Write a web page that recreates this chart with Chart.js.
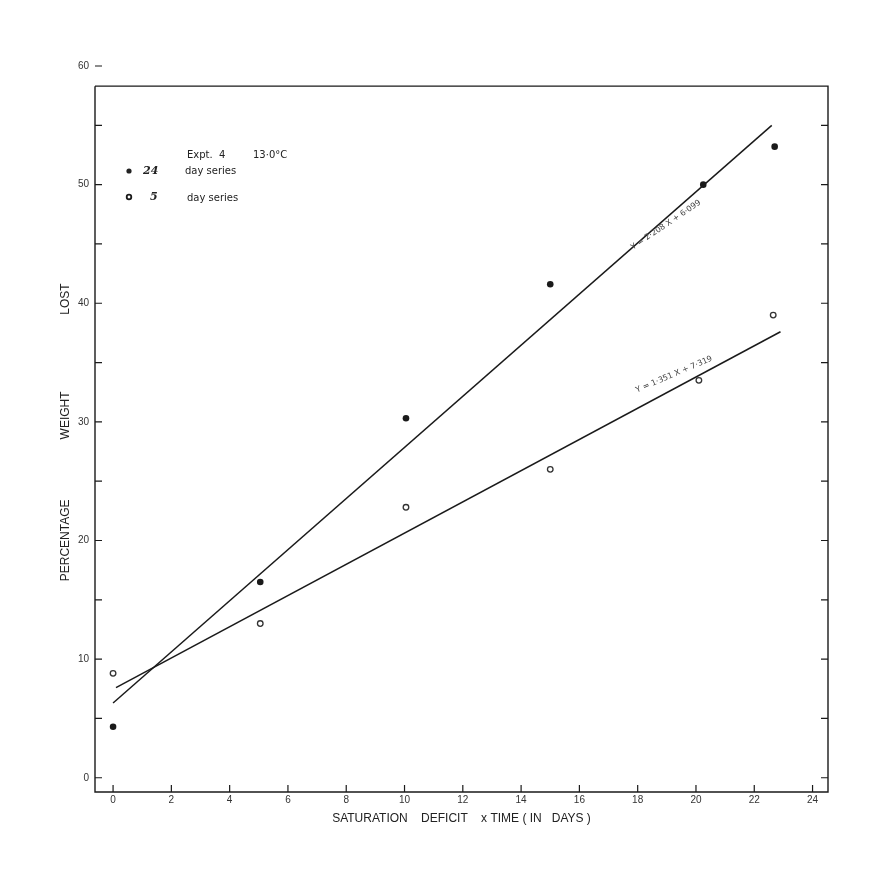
<!DOCTYPE html>
<html>
<head>
<meta charset="utf-8">
<script src="https://cdn.jsdelivr.net/npm/chart.js@4/dist/chart.umd.min.js"></script>
<style>
    body { margin: 0; background: #fff; }
    canvas { display: block; }
</style>
</head>
<body>
<canvas id="chart" width="875" height="872"></canvas>
<script>
// 24 day series (filled points)
const days24X = [0, 5.05, 10.05, 15.0, 20.25, 22.7];
const days24Y = [4.3, 16.5, 30.3, 41.6, 50.0, 53.2];

// 5 day series (open points)
const days5X = [0, 5.05, 10.05, 15.0, 20.1, 22.65];
const days5Y = [8.8, 13.0, 22.8, 26.0, 33.5, 39.0];

// fitted lines, end points
const fit24X = [0, 22.6];
const fit24Y = [6.3, 55.0];
const fit5X = [0.1, 22.9];
const fit5Y = [7.6, 37.6];

const fit24Label = "Y = 2·208 X + 6·099";
const fit5Label = "Y = 1·351 X + 7·319";

const xTickStep = 2;
const yTickStep = 5;
const yLabelStep = 10;

function toPoints(xs, ys) {
    return xs.map((x, i) => ({ x: x, y: ys[i] }));
}

const ink = "#1a1a1a";
const tickFont = { family: "'Liberation Sans', Arial, sans-serif", size: 10 };

// frame, inward tick marks, legend and equation labels
const decorations = {
    id: "decorations",
    afterDraw(chart) {
        const { ctx, chartArea } = chart;
        const x = chart.scales.x;
        const y = chart.scales.y;
        const left = chartArea.left, right = chartArea.right, bottom = chartArea.bottom;
        const top = y.getPixelForValue(58.3);

        ctx.save();
        ctx.strokeStyle = ink;
        ctx.lineWidth = 1.4;
        ctx.beginPath();
        ctx.moveTo(left, top);
        ctx.lineTo(left, bottom);
        ctx.lineTo(right, bottom);
        ctx.lineTo(right, top);
        ctx.lineTo(left, top);
        ctx.stroke();

        ctx.lineWidth = 1.2;
        ctx.beginPath();
        y.ticks.forEach(t => {
            const py = y.getPixelForValue(t.value);
            ctx.moveTo(left, py);
            ctx.lineTo(left + 7, py);
            if (py > top + 2) {
                ctx.moveTo(right - 7, py);
                ctx.lineTo(right, py);
            }
        });
        x.ticks.forEach(t => {
            const px = x.getPixelForValue(t.value);
            ctx.moveTo(px, bottom);
            ctx.lineTo(px, bottom - 7);
        });
        ctx.stroke();

        // key
        ctx.fillStyle = "#222";
        ctx.textBaseline = "middle";
        ctx.font = "10px 'DejaVu Sans', sans-serif";
        ctx.fillText("Expt.  4", 187, 155);
        ctx.fillText("13·0°C", 253, 155);
        ctx.fillText("day series", 185, 171);
        ctx.fillText("day series", 187, 198);
        ctx.font = "italic bold 11px 'DejaVu Serif', serif";
        ctx.fillText("24", 143, 171);
        ctx.fillText("5", 150, 197);
        ctx.beginPath();
        ctx.arc(129, 171, 2.6, 0, Math.PI * 2);
        ctx.fill();
        ctx.beginPath();
        ctx.lineWidth = 1.8;
        ctx.arc(129, 197, 2.3, 0, Math.PI * 2);
        ctx.stroke();

        // equations written along the fitted lines
        ctx.font = "8px 'DejaVu Sans', sans-serif";
        ctx.textAlign = "center";
        ctx.fillStyle = "#444";
        const labels = [
            { text: fit24Label, vx: 18.97, vy: 46.6, angle: -34 },
            { text: fit5Label, vx: 19.25, vy: 34.0, angle: -23 }
        ];
        labels.forEach(l => {
            ctx.save();
            ctx.translate(x.getPixelForValue(l.vx), y.getPixelForValue(l.vy));
            ctx.rotate(l.angle * Math.PI / 180);
            ctx.fillText(l.text, 0, 0);
            ctx.restore();
        });
        ctx.restore();
    }
};

new Chart(document.getElementById("chart"), {
    type: "scatter",
    data: {
        datasets: [
            {
                label: "fit 24",
                data: toPoints(fit24X, fit24Y),
                showLine: true,
                borderColor: ink,
                borderWidth: 1.5,
                pointRadius: 0,
            },
            {
                label: "fit 5",
                data: toPoints(fit5X, fit5Y),
                showLine: true,
                borderColor: ink,
                borderWidth: 1.5,
                pointRadius: 0,
            },
            {
                label: "24 day series",
                data: toPoints(days24X, days24Y),
                pointRadius: 3.3,
                backgroundColor: ink,
                borderColor: ink,
                borderWidth: 0,
            },
            {
                label: "5 day series",
                data: toPoints(days5X, days5Y),
                pointRadius: 2.8,
                backgroundColor: "#fff",
                borderColor: "#333",
                borderWidth: 1.3,
            },
        ],
    },
    options: {
        responsive: false,
        animation: false,
        layout: { padding: { top: 66, right: 47, bottom: 46, left: 50 } },
        plugins: {
            legend: { display: false },
            tooltip: { enabled: false },
        },
        scales: {
            x: {
                type: "linear",
                min: -0.62,
                max: 24.53,
                grid: { display: false, drawTicks: false, tickLength: 0 },
                border: { display: false },
                afterFit(scale) { scale.height = 34; },
                ticks: {
                    stepSize: xTickStep,
                    includeBounds: false,
                    padding: 2,
                    color: "#333",
                    font: tickFont,
                    maxRotation: 0,
                },
                title: {
                    display: true,
                    text: "SATURATION    DEFICIT    x TIME ( IN   DAYS )",
                    color: "#222",
                    font: { family: "'Liberation Sans', Arial, sans-serif", size: 12 },
                    padding: { top: 0, bottom: 0 },
                },
            },
            y: {
                type: "linear",
                min: -1.2,
                max: 60,
                grid: { display: false, drawTicks: false, tickLength: 0 },
                border: { display: false },
                afterFit(scale) { scale.width = 45; },
                ticks: {
                    stepSize: yTickStep,
                    includeBounds: false,
                    padding: 6,
                    color: "#333",
                    font: tickFont,
                    callback: (v) => (v % yLabelStep === 0 ? v : ""),
                },
                title: {
                    display: true,
                    text: "PERCENTAGE                  WEIGHT                       LOST  ",
                    color: "#222",
                    font: { family: "'Liberation Sans', Arial, sans-serif", size: 12 },
                    padding: { top: 8, bottom: 0 },
                },
            },
        },
    },
    plugins: [decorations],
});
</script>
</body>
</html>
